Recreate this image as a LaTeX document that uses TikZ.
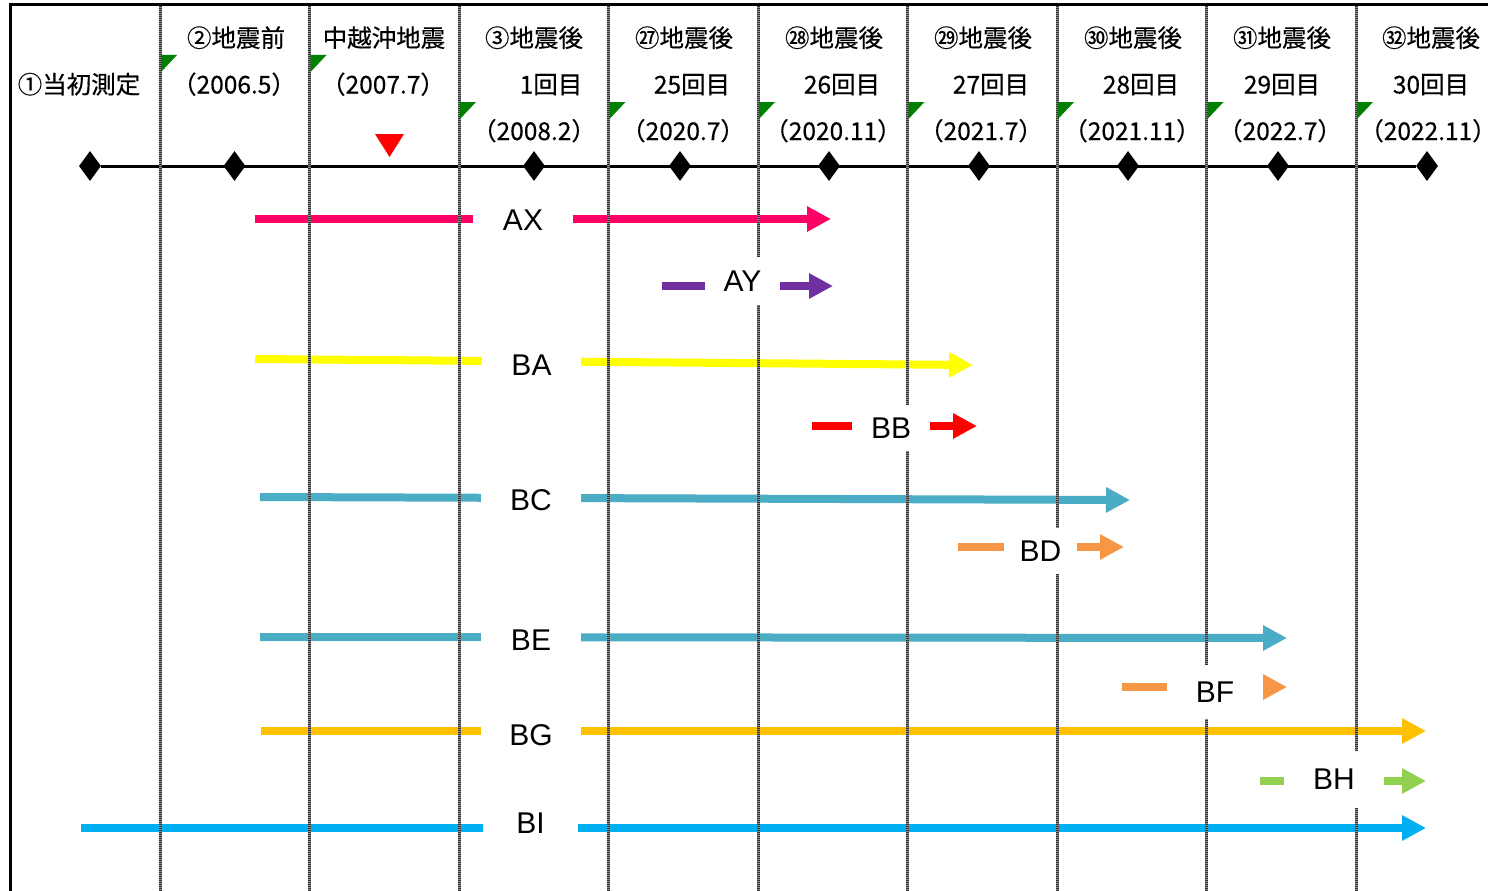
\documentclass[tikz,border=0pt]{standalone}
\usepackage{fontspec}
\setmainfont{Liberation Sans}
\newfontfamily\jp[FakeBold=0.4]{Noto Sans CJK JP}
\usetikzlibrary{arrows.meta,shapes.geometric,calc}
\pgfdeclarelayer{bglayer}
\pgfdeclarelayer{arrowlayer}
\pgfdeclarelayer{gridlayer}
\pgfsetlayers{bglayer,arrowlayer,gridlayer,main}
\definecolor{cAX}{HTML}{FF0066}
\definecolor{cAY}{HTML}{7030A0}
\definecolor{cBA}{HTML}{FFFF00}
\definecolor{cBB}{HTML}{FF0000}
\definecolor{cBC}{HTML}{4BACC6}
\definecolor{cBD}{HTML}{F79646}
\definecolor{cBG}{HTML}{FFC000}
\definecolor{cBH}{HTML}{92D050}
\definecolor{cBI}{HTML}{00B0F0}
\definecolor{cmark}{HTML}{008000}
\begin{document}
\begin{tikzpicture}[x=1pt,y=-1pt,
  hdr/.style={anchor=base, inner sep=0pt, font=\jp\fontsize{24.5}{24.5}\selectfont},
  lab/.style={fill=white, inner sep=0pt, font=\fontsize{30}{30}\selectfont},
  seg/.style={line width=8pt},
  arr/.style={line width=8pt, -{Triangle[length=24pt,width=24pt]}},
  gridbase/.style={line width=3pt, draw=black!45},
  griddots/.style={line width=3pt, draw=black!80, dash pattern=on 1pt off 1pt},
  frame/.style={line width=3pt, draw=black},
  dia/.style={diamond, fill=black, inner sep=0pt, minimum width=22pt, minimum height=30pt},
  axisline/.style={line width=3pt, draw=black},
  cornermark/.style={fill=cmark},
  quake/.style={fill=red}]
\useasboundingbox (0,0) rectangle (1488,891);
\begin{pgfonlayer}{bglayer}
\fill[white] (0,0) rectangle (1488,891);
\end{pgfonlayer}

% frame
\coordinate (TL) at (10,5);
\coordinate (TR) at (1488,5);
\coordinate (BL) at (10,891);
\draw[frame] (TR) -- (TL) -- (BL);

% grid lines
\begin{pgfonlayer}{gridlayer}
\foreach \i in {0,...,8} {
  \coordinate (g\i t) at (160+149.5*\i,6);
  \coordinate (g\i b) at (160+149.5*\i,891);
  \draw[gridbase] (g\i t) -- (g\i b);
  \draw[griddots] (g\i t) -- (g\i b);
}
\end{pgfonlayer}

% header texts
\node[hdr] (h0) at (79,93.5) {①当初測定};
\node[hdr] (h1a) at (236,47) {②地震前};
\node[hdr] (h1b) at (234,93.5) {（2006.5）};
\node[hdr] (h2a) at (384,47) {中越沖地震};
\node[hdr] (h2b) at (383,93.5) {（2007.7）};
\node[hdr] (h3a) at (534,47) {③地震後};
\node[hdr] (h3b) at (551,93.5) {1回目};
\node[hdr] (h3c) at (534,140) {（2008.2）};
\node[hdr] (h4a) at (684,47) {㉗地震後};
\node[hdr] (h4b) at (692,93.5) {25回目};
\node[hdr] (h4c) at (683,140) {（2020.7）};
\node[hdr] (h5a) at (834,47) {㉘地震後};
\node[hdr] (h5b) at (842,93.5) {26回目};
\node[hdr] (h5c) at (833,140) {（2020.11）};
\node[hdr] (h6a) at (983,47) {㉙地震後};
\node[hdr] (h6b) at (991,93.5) {27回目};
\node[hdr] (h6c) at (981,140) {（2021.7）};
\node[hdr] (h7a) at (1133,47) {㉚地震後};
\node[hdr] (h7b) at (1141,93.5) {28回目};
\node[hdr] (h7c) at (1132,140) {（2021.11）};
\node[hdr] (h8a) at (1282,47) {㉛地震後};
\node[hdr] (h8b) at (1282,93.5) {29回目};
\node[hdr] (h8c) at (1280,140) {（2022.7）};
\node[hdr] (h9a) at (1431,47) {㉜地震後};
\node[hdr] (h9b) at (1431,93.5) {30回目};
\node[hdr] (h9c) at (1422,140) {（2022.11）\hspace*{-12pt}};

% corner marks
\foreach \x/\y in {160/55,309.5/55,459/102,608.5/102,758/102,907.5/102,1057/102,1206.5/102,1356/102} {
  \fill[cornermark] (\x+1,\y) -- (\x+17,\y) -- (\x+1,\y+17) -- cycle;
}

% quake marker
\fill[quake] (375,134) -- (404,134) -- (389.5,157) -- cycle;

% time axis
\foreach \k/\x in {1/90,2/234.5,3/534,4/680,5/829,6/979,7/1128,8/1278,9/1427} {
  \node[dia] (d\k) at (\x,166) {};
}
\begin{pgfonlayer}{arrowlayer}
\draw[axisline] (d1) -- (d9);
\end{pgfonlayer}

% rows: name / start x / start y / label x / label y / gap width / box height / end x / end y / colour
\foreach \n/\sx/\sy/\cx/\cy/\gw/\mh/\ex/\ey/\col in {
  AX/255/219/523/220/100/48/831/219/cAX,
  AY/662/286/742.5/281/75/48/833/286/cAY,
  BA/255/359/531.5/365/99/48/973/365/cBA,
  BB/812/426/891/428/78/46/977/426/cBB,
  BC/260/497/531/500/100/48/1130/500/cBC,
  BD/958/547/1040.5/551/73/46/1124/547/cBD,
  BE/260/637/531/640/100/48/1287/638/cBC,
  BF/1122/687/1215/692/96/54/1287/687/cBD,
  BG/261/731/531/735/100/48/1426/731/cBG,
  BH/1260/781/1334/779/100/57/1426/781/cBH,
  BI/81/828/530.5/823/95/48/1426/828/cBI} {
  \coordinate (\n s) at (\sx,\sy);
  \coordinate (\n e) at (\ex,\ey);
  \node[lab, minimum width=\gw pt, minimum height=\mh pt] (\n) at (\cx,\cy) {\n};
  \begin{pgfonlayer}{arrowlayer}
  \draw[seg, draw=\col] (\n s) -- ($(\n s)!(\n.west)!(\n e)$);
  \draw[arr, draw=\col] ($(\n s)!(\n.east)!(\n e)$) -- (\n e);
  \end{pgfonlayer}
}
\end{tikzpicture}
\end{document}
